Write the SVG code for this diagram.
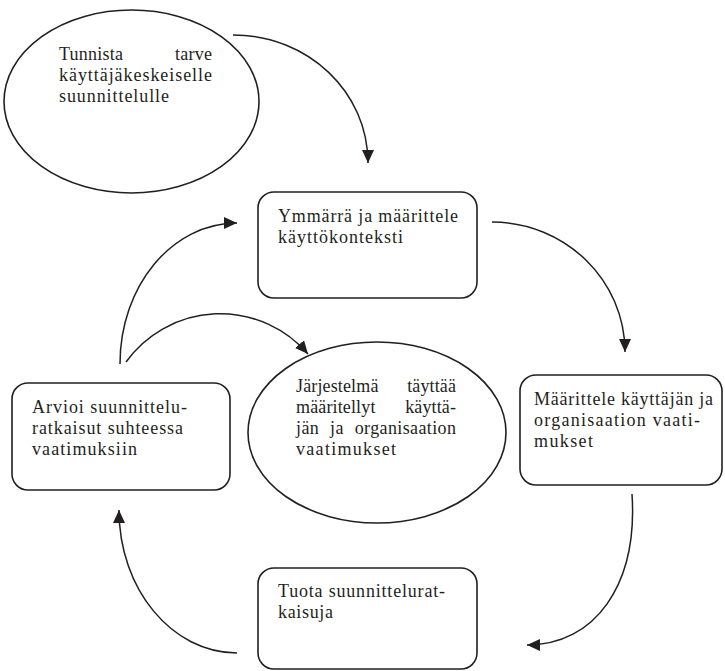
<svg xmlns="http://www.w3.org/2000/svg" width="725" height="671" viewBox="0 0 725 671">
  <defs>
    <style>
      .shape { fill: #ffffff; stroke: #231f20; stroke-width: 1.6; }
      .link { fill: none; stroke: #231f20; stroke-width: 1.5; }
      .label { font-family: "Liberation Serif", "Times New Roman", serif; font-size: 18px; fill: #231f20; }
    </style>
    <marker id="arrowhead" viewBox="0 0 13 12" refX="13" refY="6" markerWidth="13" markerHeight="12" markerUnits="userSpaceOnUse" orient="auto">
      <path d="M0,0 L13,6 L0,12 z" fill="#231f20"/>
    </marker>
  </defs>
  <rect width="725" height="671" fill="#ffffff"/>

  <!-- Start: identify the need -->
  <g id="node-tunnista">
    <ellipse class="shape" cx="131.5" cy="101.5" rx="127.5" ry="91.5"/>
    <text class="label" x="59" y="60" word-spacing="47" textLength="153" lengthAdjust="spacing">Tunnista tarve</text>
    <text class="label" x="59" y="81" textLength="153" lengthAdjust="spacing">käyttäjäkeskeiselle</text>
    <text class="label" x="59" y="102" textLength="110" lengthAdjust="spacing">suunnittelulle</text>
  </g>

  <!-- Context of use -->
  <g id="node-ymmarra">
    <rect class="shape" x="258" y="192" width="219" height="106" rx="16"/>
    <text class="label" x="278" y="222" textLength="180" lengthAdjust="spacing">Ymmärrä ja määrittele</text>
    <text class="label" x="278" y="243" textLength="125" lengthAdjust="spacing">käyttökonteksti</text>
  </g>

  <!-- Requirements -->
  <g id="node-maarittele">
    <rect class="shape" x="520" y="375" width="202" height="110" rx="16"/>
    <text class="label" x="534" y="405" textLength="179" lengthAdjust="spacing">Määrittele käyttäjän ja</text>
    <text class="label" x="534" y="426" textLength="166" lengthAdjust="spacing">organisaation vaati-</text>
    <text class="label" x="534" y="447" textLength="59" lengthAdjust="spacing">mukset</text>
  </g>

  <!-- Design solutions -->
  <g id="node-tuota">
    <rect class="shape" x="258" y="568" width="219" height="101" rx="16"/>
    <text class="label" x="278" y="597" textLength="167" lengthAdjust="spacing">Tuota suunnittelurat-</text>
    <text class="label" x="278" y="618" textLength="55" lengthAdjust="spacing">kaisuja</text>
  </g>

  <!-- Evaluation -->
  <g id="node-arvioi">
    <rect class="shape" x="12" y="383" width="218" height="107" rx="16"/>
    <text class="label" x="32" y="413" textLength="155" lengthAdjust="spacing">Arvioi suunnittelu-</text>
    <text class="label" x="32" y="434" textLength="151" lengthAdjust="spacing">ratkaisut suhteessa</text>
    <text class="label" x="32" y="455" textLength="105" lengthAdjust="spacing">vaatimuksiin</text>
  </g>

  <!-- Goal: system meets the requirements -->
  <g id="node-jarjestelma">
    <ellipse class="shape" cx="377" cy="432.5" rx="129" ry="90.5"/>
    <text class="label" x="296" y="392" word-spacing="24" textLength="160" lengthAdjust="spacing">Järjestelmä täyttää</text>
    <text class="label" x="296" y="413" word-spacing="25" textLength="160" lengthAdjust="spacing">määritellyt käyttä-</text>
    <text class="label" x="296" y="434" word-spacing="6" textLength="160" lengthAdjust="spacing">jän ja organisaation</text>
    <text class="label" x="296" y="455" textLength="100" lengthAdjust="spacing">vaatimukset</text>
  </g>

  <!-- Cycle arrows -->
  <g id="connectors">
    <path class="link" d="M233,35 C308,35 368,92 368,163" marker-end="url(#arrowhead)"/>
    <path class="link" d="M492,222 C565,222 625,280 625,352" marker-end="url(#arrowhead)"/>
    <path class="link" d="M632,494 C638,585 595,645 527,645" marker-end="url(#arrowhead)"/>
    <path class="link" d="M237,653 C172,653 119,589 119,510" marker-end="url(#arrowhead)"/>
    <path class="link" d="M120,364 C120,286 172,223 237,223" marker-end="url(#arrowhead)"/>
    <path class="link" d="M126,362 A116,116 0 0 1 308,354" marker-end="url(#arrowhead)"/>
  </g>
</svg>
